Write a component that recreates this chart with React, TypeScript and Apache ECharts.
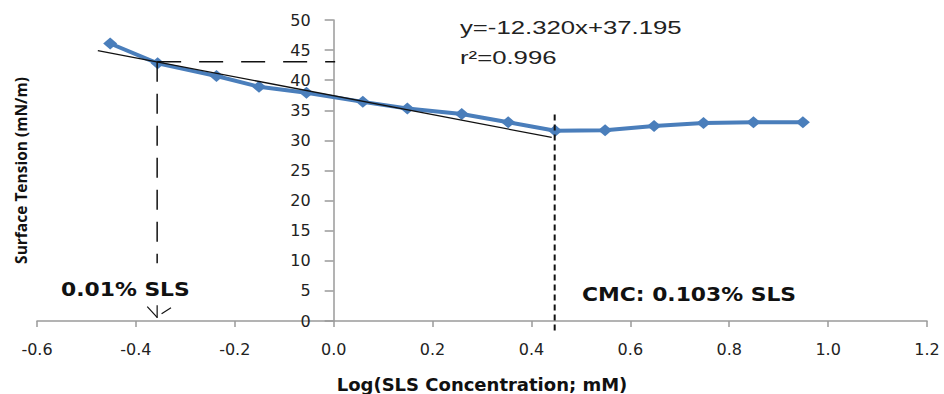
import React, { useEffect, useRef } from "react";
import * as echarts from "echarts";

// Measured data (log SLS concentration, mM) vs surface tension (mN/m)
const logConc = [-0.452, -0.356, -0.237, -0.151, -0.055, 0.059, 0.149, 0.259, 0.353, 0.448, 0.549, 0.648, 0.748, 0.849, 0.949];
const surfaceTension = [46.1, 42.8, 40.7, 38.9, 37.9, 36.4, 35.3, 34.4, 33.0, 31.6, 31.7, 32.4, 32.9, 33.0, 33.0];

// Linear trend line as drawn (end points)
const trendX = [-0.477, 0.441];
const trendY = [44.9, 30.5];

// Annotation guide lines (data coordinates)
const guideH = [[-0.357, 43.05], [0.003, 43.05]];
const guideV = [[-0.357, 43.05], [-0.357, 9.6]];
const cmcLine = [[0.447, 34.3], [0.447, -2.0]];
const arrowSegs = [
  [[-0.377, 2.4], [-0.357, 0.6]],
  [[-0.357, 2.6], [-0.357, 0.5]],
  [[-0.348, 1.2], [-0.329, 2.2]],
];

// Axis ranges
const xMin = -0.6, xMax = 1.2, xStep = 0.2;
const yMin = 0, yMax = 50, yStep = 5;

const equationText = "y=-12.320x+37.195";
const r2Text = "r\u00B2=0.996";
const lowLabel = "0.01% SLS";
const cmcLabel = "CMC: 0.103% SLS";

const GRID_LEFT = 37;
const GRID_RIGHT = 17;
const CHART_W = 944;

export default function App() {
  const ref = useRef<HTMLDivElement>(null);
  useEffect(() => {
    if (!ref.current) return;
    const chart = echarts.init(ref.current, null, { renderer: "svg" });
    const black = "#111";
    const plotW = CHART_W - GRID_LEFT - GRID_RIGHT;
    // place the y axis where x = 0 (Excel-style crossing)
    const yAxisOffset = -((0 - xMin) / (xMax - xMin)) * plotW;
    const seg = (data: number[][], type: any, width = 1.5) => ({
      type: "line",
      data,
      symbol: "none",
      silent: true,
      clip: false,
      z: 4,
      lineStyle: { color: black, width, type },
    });
    chart.setOption({
      animation: false,
      backgroundColor: "#fff",
      grid: { left: GRID_LEFT, right: GRID_RIGHT, top: 20, bottom: 73, containLabel: false, outerBoundsMode: "none" },
      xAxis: {
        type: "value",
        min: xMin,
        max: xMax,
        interval: xStep,
        splitLine: { show: false },
        axisLine: { lineStyle: { color: "#9a9a9a", width: 1.5 } },
        axisTick: { show: true, length: 6, lineStyle: { color: "#9a9a9a", width: 1.5 } },
        axisLabel: {
          margin: 20,
          color: "#222",
          fontFamily: "DejaVu Sans",
          fontSize: 16,
          formatter: (v: number) => v.toFixed(1),
        },
        name: "Log(SLS Concentration; mM)",
        nameLocation: "middle",
        nameGap: 54,
        nameTextStyle: { fontFamily: "DejaVu Sans", fontWeight: "bold", fontSize: 18, color: "#111" },
      },
      yAxis: {
        type: "value",
        min: yMin,
        max: yMax,
        interval: yStep,
        offset: yAxisOffset,
        splitLine: { show: false },
        axisLine: { show: true, onZero: false, lineStyle: { color: "#9a9a9a", width: 1.5 } },
        axisTick: { show: true, length: 9, lineStyle: { color: "#9a9a9a", width: 1.5 } },
        axisLabel: {
          margin: 23,
          color: "#222",
          fontFamily: "DejaVu Sans",
          fontSize: 16,
        },
        name: "Surface Tension (mN/m)",
        nameLocation: "middle",
        nameGap: 305,
        nameTextStyle: { fontFamily: "Open Sans", fontWeight: "bold", fontSize: 15.5, color: "#111" },
      },
      series: [
        {
          type: "line",
          data: logConc.map((x, i) => [x, surfaceTension[i]]),
          symbol: "diamond",
          symbolSize: [14, 12],
          z: 3,
          itemStyle: { color: "#4a7ebb" },
          lineStyle: { color: "#4a7ebb", width: 4 },
        },
        {
          type: "line",
          data: trendX.map((x, i) => [x, trendY[i]]),
          symbol: "none",
          z: 5,
          lineStyle: { color: black, width: 1.3 },
        },
        seg(guideH, [24, 18]),
        seg(guideV, [20, 12]),
        seg(cmcLine, [6, 4], 2),
        ...arrowSegs.map((s) => seg(s, "solid", 1.2)),
      ],
      graphic: [
        {
          type: "text",
          x: 460,
          y: 28,
          scaleX: 1.43,
          style: { text: equationText, font: '18px "Liberation Sans"', fill: "#222", verticalAlign: "middle" },
        },
        {
          type: "text",
          x: 460,
          y: 58,
          scaleX: 1.43,
          style: { text: r2Text, font: '18px "Liberation Sans"', fill: "#222", verticalAlign: "middle" },
        },
        {
          type: "text",
          x: 61,
          y: 290,
          scaleX: 1.15,
          style: { text: lowLabel, font: 'bold 19px "DejaVu Sans"', fill: "#111", verticalAlign: "middle" },
        },
        {
          type: "text",
          x: 582,
          y: 295,
          scaleX: 1.15,
          style: { text: cmcLabel, font: 'bold 19px "DejaVu Sans"', fill: "#111", verticalAlign: "middle" },
        },
      ],
    });
    return () => chart.dispose();
  }, []);
  return (
    <div
      ref={ref}
      style={{ position: "fixed", left: 0, top: 0, width: 944, height: 394, background: "#fff" }}
    />
  );
}
